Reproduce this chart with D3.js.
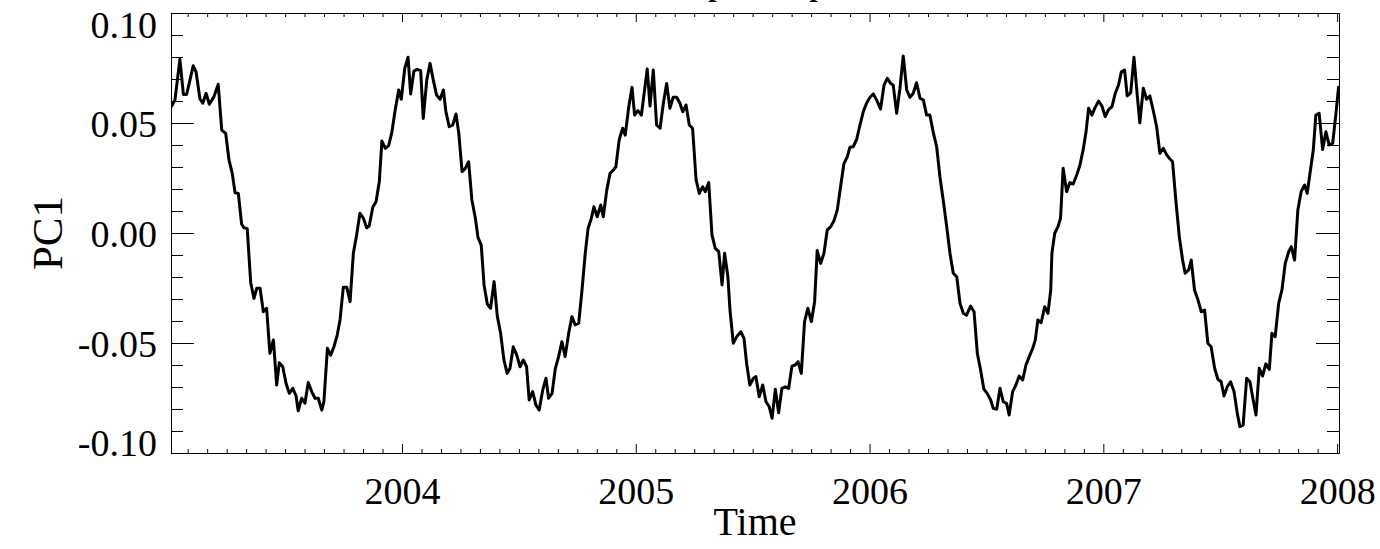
<!DOCTYPE html>
<html><head><meta charset="utf-8">
<script src="https://cdn.jsdelivr.net/npm/d3@7"></script>
<style>html,body{margin:0;padding:0;background:#fff;overflow:hidden;} svg{display:block;}</style>
</head><body><svg id="chart" width="1380" height="549"></svg>
<script>
// ---- data (decimal year, PC1 amplitude) ----
const times = [
2003.015,2003.029,2003.050,2003.065,2003.079,2003.107,2003.119,2003.136,2003.148,2003.162,
2003.176,2003.196,2003.214,2003.229,2003.246,2003.260,2003.274,2003.286,2003.300,2003.314,
2003.324,2003.338,2003.353,2003.367,2003.379,2003.393,2003.407,2003.421,2003.435,2003.450,
2003.464,2003.475,2003.490,2003.504,2003.518,2003.533,2003.547,2003.556,2003.571,2003.585,
2003.599,2003.614,2003.628,2003.642,2003.657,2003.666,2003.681,2003.695,2003.709,2003.723,
2003.735,2003.749,2003.764,2003.778,2003.792,2003.806,2003.820,2003.835,2003.849,2003.860,
2003.875,2003.889,2003.903,2003.914,2003.929,2003.943,2003.957,2003.971,2003.986,2003.997,
2004.012,2004.026,2004.037,2004.051,2004.065,2004.080,2004.091,2004.106,2004.120,2004.134,
2004.148,2004.163,2004.177,2004.188,2004.202,2004.217,2004.231,2004.243,2004.257,2004.271,
2004.285,2004.299,2004.314,2004.325,2004.339,2004.351,2004.365,2004.379,2004.394,2004.408,
2004.422,2004.436,2004.450,2004.462,2004.476,2004.491,2004.505,2004.519,2004.533,2004.544,
2004.559,2004.573,2004.587,2004.602,2004.616,2004.627,2004.642,2004.656,2004.670,2004.684,
2004.698,2004.713,2004.727,2004.741,2004.756,2004.770,2004.784,2004.796,2004.810,2004.821,
2004.835,2004.850,2004.861,2004.876,2004.890,2004.904,2004.915,2004.929,2004.944,2004.955,
2004.970,2004.984,2004.995,2005.009,2005.024,2005.038,2005.049,2005.061,2005.075,2005.089,
2005.104,2005.118,2005.132,2005.146,2005.160,2005.175,2005.189,2005.201,2005.215,2005.229,
2005.243,2005.258,2005.272,2005.286,2005.297,2005.312,2005.326,2005.340,2005.355,2005.369,
2005.380,2005.394,2005.403,2005.417,2005.432,2005.449,2005.463,2005.474,2005.488,2005.503,
2005.514,2005.528,2005.543,2005.557,2005.571,2005.583,2005.597,2005.611,2005.625,2005.639,
2005.654,2005.668,2005.682,2005.694,2005.708,2005.722,2005.736,2005.751,2005.765,2005.776,
2005.791,2005.805,2005.819,2005.834,2005.848,2005.862,2005.876,2005.890,2005.905,2005.916,
2005.930,2005.945,2005.959,2005.973,2005.988,2006.002,2006.016,2006.030,2006.047,2006.062,
2006.076,2006.090,2006.101,2006.116,2006.130,2006.144,2006.159,2006.173,2006.187,2006.201,
2006.216,2006.230,2006.244,2006.258,2006.272,2006.287,2006.301,2006.315,2006.330,2006.344,
2006.358,2006.373,2006.387,2006.401,2006.415,2006.432,2006.447,2006.461,2006.475,2006.489,
2006.503,2006.518,2006.529,2006.544,2006.558,2006.572,2006.586,2006.597,2006.612,2006.626,
2006.640,2006.655,2006.669,2006.683,2006.698,2006.709,2006.720,2006.734,2006.749,2006.763,
2006.775,2006.780,2006.792,2006.806,2006.817,2006.828,2006.843,2006.857,2006.871,2006.886,
2006.900,2006.914,2006.926,2006.937,2006.951,2006.965,2006.980,2006.994,2007.008,2007.023,
2007.037,2007.051,2007.065,2007.077,2007.091,2007.102,2007.117,2007.131,2007.145,2007.156,
2007.171,2007.185,2007.199,2007.213,2007.228,2007.242,2007.256,2007.271,2007.282,2007.296,
2007.310,2007.325,2007.339,2007.350,2007.365,2007.376,2007.390,2007.405,2007.419,2007.433,
2007.447,2007.461,2007.476,2007.490,2007.504,2007.516,2007.530,2007.544,2007.559,2007.573,
2007.584,2007.598,2007.613,2007.627,2007.641,2007.653,2007.667,2007.681,2007.695,2007.710,
2007.721,2007.735,2007.750,2007.764,2007.778,2007.793,2007.804,2007.818,2007.832,2007.846,
2007.861,2007.872,2007.887,2007.898,2007.909,2007.923,2007.938,2007.952,2007.966,2007.981,
2007.995,2008.006];

const pc1 = [
0.0577,0.0605,0.0790,0.0630,0.0630,0.0760,0.0733,0.0609,0.0590,0.0635,
0.0585,0.0620,0.0676,0.0468,0.0453,0.0332,0.0271,0.0183,0.0180,0.0041,
0.0024,0.0020,-0.0226,-0.0297,-0.0251,-0.0251,-0.0358,-0.0342,-0.0547,-0.0486,
-0.0691,-0.0590,-0.0608,-0.0683,-0.0729,-0.0706,-0.0741,-0.0808,-0.0751,-0.0774,
-0.0680,-0.0721,-0.0751,-0.0751,-0.0805,-0.0767,-0.0524,-0.0555,-0.0517,-0.0464,
-0.0395,-0.0247,-0.0247,-0.0312,-0.0092,-0.0009,0.0090,0.0067,0.0024,0.0033,
0.0117,0.0142,0.0233,0.0418,0.0385,0.0397,0.0460,0.0559,0.0650,0.0608,
0.0749,0.0799,0.0632,0.0736,0.0744,0.0738,0.0521,0.0695,0.0771,0.0695,
0.0627,0.0608,0.0650,0.0551,0.0483,0.0491,0.0541,0.0453,0.0279,0.0294,
0.0324,0.0150,0.0067,-0.0020,-0.0055,-0.0236,-0.0323,-0.0342,-0.0221,-0.0380,
-0.0456,-0.0577,-0.0638,-0.0615,-0.0517,-0.0555,-0.0608,-0.0577,-0.0608,-0.0759,
-0.0721,-0.0782,-0.0805,-0.0714,-0.0660,-0.0751,-0.0729,-0.0615,-0.0562,-0.0494,
-0.0562,-0.0456,-0.0380,-0.0418,-0.0410,-0.0259,-0.0092,0.0021,0.0067,0.0120,
0.0074,0.0127,0.0074,0.0195,0.0271,0.0286,0.0301,0.0423,0.0476,0.0445,
0.0574,0.0662,0.0536,0.0556,0.0536,0.0653,0.0745,0.0577,0.0741,0.0491,
0.0476,0.0590,0.0680,0.0567,0.0617,0.0617,0.0590,0.0551,0.0582,0.0491,
0.0476,0.0241,0.0180,0.0210,0.0188,0.0229,-0.0009,-0.0070,-0.0085,-0.0236,
-0.0092,-0.0199,-0.0350,-0.0501,-0.0471,-0.0449,-0.0479,-0.0592,-0.0691,-0.0660,
-0.0653,-0.0744,-0.0691,-0.0767,-0.0790,-0.0842,-0.0710,-0.0817,-0.0706,-0.0699,
-0.0706,-0.0605,-0.0600,-0.0585,-0.0638,-0.0403,-0.0342,-0.0403,-0.0312,-0.0080,
-0.0138,-0.0092,0.0014,0.0029,0.0056,0.0105,0.0210,0.0314,0.0347,0.0390,
0.0392,0.0426,0.0491,0.0551,0.0592,0.0617,0.0632,0.0605,0.0564,0.0673,
0.0703,0.0680,0.0673,0.0544,0.0658,0.0805,0.0650,0.0617,0.0635,0.0683,
0.0612,0.0605,0.0536,0.0536,0.0460,0.0392,0.0256,0.0150,0.0029,-0.0092,
-0.0183,-0.0199,-0.0320,-0.0365,-0.0373,-0.0332,-0.0358,-0.0547,-0.0623,-0.0710,
-0.0729,-0.0759,-0.0797,-0.0801,-0.0706,-0.0767,-0.0774,-0.0827,-0.0721,-0.0691,
-0.0650,-0.0668,-0.0600,-0.0562,-0.0524,-0.0486,-0.0395,-0.0408,-0.0335,-0.0365,
-0.0259,-0.0092,-0.0001,0.0029,0.0067,0.0294,0.0188,0.0229,0.0223,0.0264,
0.0309,0.0380,0.0460,0.0567,0.0536,0.0571,0.0600,0.0577,0.0529,0.0562,
0.0574,0.0635,0.0673,0.0733,0.0741,0.0623,0.0638,0.0799,0.0627,0.0501,
0.0658,0.0608,0.0623,0.0559,0.0483,0.0362,0.0385,0.0355,0.0340,0.0324,
0.0150,-0.0017,-0.0123,-0.0183,-0.0168,-0.0123,-0.0259,-0.0305,-0.0358,-0.0350,
-0.0501,-0.0517,-0.0615,-0.0665,-0.0676,-0.0741,-0.0699,-0.0676,-0.0721,-0.0820,
-0.0880,-0.0873,-0.0660,-0.0676,-0.0759,-0.0827,-0.0615,-0.0650,-0.0595,-0.0620,
-0.0456,-0.0471,-0.0320,-0.0259,-0.0138,-0.0085,-0.0062,-0.0123,0.0105,0.0188,
0.0218,0.0180,0.0294,0.0377,0.0536,0.0544,0.0380,0.0460,0.0400,0.0408,
0.0544,0.0662];

const xDomain = [2003.012, 2008.008];
const yDomain = [-0.10, 0.10];
const xTicks = [2004, 2005, 2006, 2007, 2008];
const xTickLabels = ["2004", "2005", "2006", "2007", "2008"];
const yTicks = [-0.10, -0.05, 0.00, 0.05, 0.10];
const yTickLabels = ["-0.10", "-0.05", "0.00", "0.05", "0.10"];
const titleText = "Principal component";
const xLabelText = "Time";
const yLabelText = "PC1";

// ---- layout ----
const FONT = "'Liberation Serif','Times New Roman',Times,serif";
const L = 171, R = 1339, T = 13, B = 453;
const svg = d3.select("#chart");
const x = d3.scaleLinear().domain(xDomain).range([L, R]);
const y = d3.scaleLinear().domain(yDomain).range([B, T]);

const xMinor = [];
for (let yr = 2003; yr < 2008; yr++) for (let m = 1; m < 12; m++) xMinor.push(yr + m / 12);
const yMinor = d3.range(-9, 10).map(k => k / 100).filter(v => Math.abs(v * 20 - Math.round(v * 20)) > 1e-6);

function styleAxis(g) {
  g.attr("font-family", FONT).attr("font-size", 38);
  g.selectAll("path.domain").attr("stroke", "#000").attr("stroke-width", 1);
  g.selectAll(".tick line").attr("stroke", "#000").attr("stroke-width", 1);
  g.selectAll(".tick text").attr("fill", "#000");
}

// minor ticks
svg.append("g").attr("transform", `translate(0,${B})`)
  .call(d3.axisBottom(x).tickValues(xMinor).tickSize(-4).tickSizeOuter(0).tickFormat(""))
  .call(styleAxis).call(g => g.select(".domain").remove());
svg.append("g").attr("transform", `translate(0,${T})`)
  .call(d3.axisTop(x).tickValues(xMinor).tickSize(-4).tickSizeOuter(0).tickFormat(""))
  .call(styleAxis).call(g => g.select(".domain").remove());
svg.append("g").attr("transform", `translate(${L},0)`)
  .call(d3.axisLeft(y).tickValues(yMinor).tickSize(-12).tickSizeOuter(0).tickFormat(""))
  .call(styleAxis).call(g => g.select(".domain").remove());
svg.append("g").attr("transform", `translate(${R},0)`)
  .call(d3.axisRight(y).tickValues(yMinor).tickSize(-12).tickSizeOuter(0).tickFormat(""))
  .call(styleAxis).call(g => g.select(".domain").remove());

// major axes
svg.append("g").attr("transform", `translate(0,${B})`)
  .call(d3.axisBottom(x).tickValues(xTicks).tickSize(-9).tickSizeOuter(0).tickPadding(24)
    .tickFormat((d, i) => xTickLabels[i]))
  .call(styleAxis);
svg.append("g").attr("transform", `translate(0,${T})`)
  .call(d3.axisTop(x).tickValues(xTicks).tickSize(-9).tickSizeOuter(0).tickFormat(""))
  .call(styleAxis);
const yl = svg.append("g").attr("transform", `translate(${L},0)`)
  .call(d3.axisLeft(y).tickValues(yTicks).tickSize(-23).tickSizeOuter(0).tickPadding(14)
    .tickFormat((d, i) => yTickLabels[i]))
  .call(styleAxis);
yl.selectAll(".tick text").attr("dy", d => d >= 0.099 ? "24px" : (d <= -0.099 ? "2px" : "13px"));
svg.append("g").attr("transform", `translate(${R},0)`)
  .call(d3.axisRight(y).tickValues(yTicks).tickSize(-23).tickSizeOuter(0).tickFormat(""))
  .call(styleAxis);

// line
svg.append("defs").append("clipPath").attr("id", "clip")
  .append("rect").attr("x", L).attr("y", T - 2).attr("width", R - L).attr("height", B - T + 4);
const line = d3.line().x(i => x(times[i])).y(i => y(pc1[i]));
svg.append("path")
  .attr("clip-path", "url(#clip)")
  .attr("d", line(d3.range(times.length)))
  .attr("fill", "none").attr("stroke", "#000").attr("stroke-width", 3)
  .attr("stroke-linejoin", "round").attr("stroke-linecap", "round");

// labels
svg.append("text").attr("x", 630).attr("y", -4)
  .attr("font-family", FONT).attr("font-size", 30).attr("font-weight", "bold")
  .attr("text-anchor", "start").text(titleText);
svg.append("text").attr("x", (L + R) / 2).attr("y", 535)
  .attr("font-family", FONT).attr("font-size", 40).attr("text-anchor", "middle").text(xLabelText);
svg.append("text").attr("transform", `translate(62,${(T + B) / 2}) rotate(-90)`)
  .attr("font-family", FONT).attr("font-size", 43).attr("text-anchor", "middle").text(yLabelText);
</script>
</body></html>
